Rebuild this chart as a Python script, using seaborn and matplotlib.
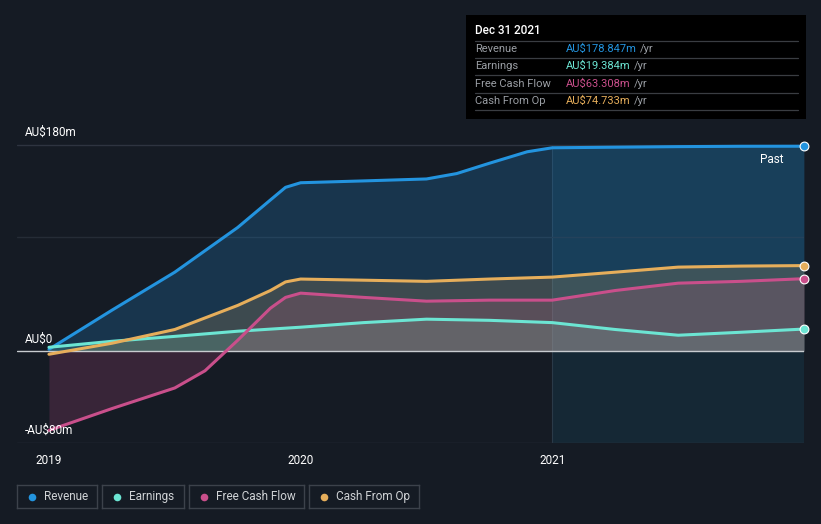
import numpy as np
import pandas as pd
import matplotlib
matplotlib.use("Agg")
import matplotlib.pyplot as plt
import matplotlib.transforms as mtrans
import seaborn as sns

# values, AU$ millions, x in fractional years
rev_x = [2019.0, 2019.25, 2019.5, 2019.75, 2019.88, 2019.94, 2020.0, 2020.25, 2020.5, 2020.62, 2020.75, 2020.9, 2021.0, 2021.25, 2021.5, 2021.75, 2022.0]
rev_y = [1.7, 35.8, 69.0, 108.0, 132.0, 143.0, 147.0, 148.6, 150.3, 155.0, 164.0, 174.0, 177.5, 178.0, 178.5, 178.8, 178.847]

earn_x = [2019.0, 2019.25, 2019.5, 2019.75, 2020.0, 2020.25, 2020.5, 2020.75, 2021.0, 2021.25, 2021.5, 2021.75, 2022.0]
earn_y = [3.5, 8.7, 13.0, 17.5, 21.0, 25.0, 28.0, 27.0, 25.0, 19.0, 14.0, 16.6, 19.384]

fcf_x = [2019.0, 2019.25, 2019.5, 2019.62, 2019.75, 2019.88, 2019.94, 2020.0, 2020.25, 2020.5, 2020.75, 2021.0, 2021.25, 2021.5, 2021.75, 2022.0]
fcf_y = [-69.0, -50.0, -32.0, -17.0, 9.6, 37.6, 47.0, 50.7, 47.0, 43.7, 44.6, 44.6, 53.0, 59.4, 61.0, 63.308]

cfo_x = [2019.0, 2019.25, 2019.5, 2019.75, 2019.88, 2019.94, 2020.0, 2020.25, 2020.5, 2020.75, 2021.0, 2021.25, 2021.5, 2021.75, 2022.0]
cfo_y = [-2.6, 7.0, 19.0, 40.0, 53.0, 60.5, 63.0, 62.0, 61.0, 63.0, 64.7, 69.0, 73.4, 74.3, 74.733]

names = ["Revenue", "Earnings", "Free Cash Flow", "Cash From Op"]
colors = ["#2394DF", "#6CE5D3", "#C94F8B", "#E6AE5B"]
last_vals = ["AU$178.847m", "AU$19.384m", "AU$63.308m", "AU$74.733m"]
year_ticks = [2019, 2020, 2021]
y_labels = {180: "AU$180m", 0: "AU$0", -80: "-AU$80m"}

bg = "#151B24"
sns.set_theme(style="dark")
plt.rcParams['font.family'] = ['Roboto', 'DejaVu Sans']

W, H = 821, 524
fig = plt.figure(figsize=(W / 100, H / 100), dpi=100, facecolor=bg)
ax = fig.add_axes([17 / W, (H - 443) / H, (804 - 17) / W, (443 - 130) / H])
ax.set_facecolor(bg)

x0 = 2019 - 32 / 252
ax.set_xlim(x0, 2022.0)
ax.set_ylim(-80, 193)

# highlighted last-year band, only between the outer grid lines
ax.fill_between([2021.0, 2022.0], -80, 180, color="#1a6d8f", alpha=0.16, lw=0, zorder=0)
ax.plot([2021.0, 2021.0], [-80, 180], color="#2a3a48", lw=0.8, zorder=0)

# grid lines
for gy in [180, 100, -80]:
    ax.axhline(gy, color="#2E3440" if gy != 100 else "#252c36", lw=1, zorder=1)

series = [(rev_x, rev_y), (earn_x, earn_y), (fcf_x, fcf_y), (cfo_x, cfo_y)]
fill_alpha = [0.22, 0.18, 0.2, 0.18]
for (xs, ys), c, a in zip(series, colors, fill_alpha):
    ax.fill_between(xs, ys, 0, color=c, alpha=a, lw=0, zorder=2)

for (xs, ys), c, n in zip(series, colors, names):
    df = pd.DataFrame({"x": xs, "y": ys})
    sns.lineplot(data=df, x="x", y="y", ax=ax, color=c, lw=2.2, zorder=4,
                 solid_joinstyle="round", solid_capstyle="round")
    ax.scatter([xs[-1]], [ys[-1]], s=40, color=c, edgecolor="white", lw=0.8, zorder=6, clip_on=False)

ax.axhline(0, color="#C8CCD0", lw=1.0, zorder=3)

blend = mtrans.blended_transform_factory(fig.transFigure, ax.transData)
for v, t in y_labels.items():
    ax.text(25 / W, v + 5, t, transform=blend, color="white", fontsize=8.5,
            va="bottom", ha="left", zorder=7)
ax.text(2021.92, 173, "Past", color="white", fontsize=8.5, ha="right", va="top", zorder=7)

ax.set_xticks(year_ticks)
ax.set_xticklabels([str(y) for y in year_ticks])
ax.set_yticks([])
ax.tick_params(axis="x", colors="#8a8f96", labelcolor="white", labelsize=8.5,
               length=4, width=0.8, direction="out", pad=4)
ax.set_xlabel("")
ax.set_ylabel("")
for s in ax.spines.values():
    s.set_visible(False)
if ax.get_legend() is not None:
    ax.get_legend().remove()

# tooltip box
tip = fig.add_axes([466 / W, (H - 119) / H, (806 - 466) / W, (119 - 15) / H])
tip.set_facecolor("black")
tip.set_xlim(466, 806)
tip.set_ylim(119, 15)
tip.set_xticks([])
tip.set_yticks([])
for s in tip.spines.values():
    s.set_visible(False)
tip.text(475, 31, "Dec 31 2021", color="white", fontsize=8.5, va="center", fontweight="medium")
for ly in [41, 58, 75, 93, 110]:
    tip.plot([475, 798], [ly, ly], color="#3a3d42", lw=0.9)
row_y = [49, 66, 84, 101]
for ry, n, c, v in zip(row_y, names, colors, last_vals):
    tip.text(475, ry, n, color="#9a9ea4", fontsize=8, va="center")
    t = tip.text(566, ry, v, color=c, fontsize=8, va="center")
    fig.canvas.draw()
    bb = t.get_window_extent()
    xe = tip.transData.inverted().transform((bb.x1, bb.y0))[0]
    tip.text(xe + 3, ry, "/yr", color="#9a9ea4", fontsize=8, va="center")

# legend boxes
boxes = [(17, 97), (102, 184), (189, 304), (309, 419)]
for (bx0, bx1), n, c in zip(boxes, names, colors):
    lax = fig.add_axes([bx0 / W, (H - 508) / H, (bx1 - bx0) / W, 23 / H])
    lax.set_facecolor(bg)
    lax.set_xlim(0, bx1 - bx0)
    lax.set_ylim(0, 23)
    lax.set_xticks([])
    lax.set_yticks([])
    for s in lax.spines.values():
        s.set_color("#3c424b")
        s.set_linewidth(1)
    lax.scatter([15], [11.5], s=30, color=c, lw=0)
    lax.text(27, 11.5, n, color="#d0d3d6", fontsize=8.5, va="center")

fig.savefig("out.png", dpi=100, facecolor=bg)
